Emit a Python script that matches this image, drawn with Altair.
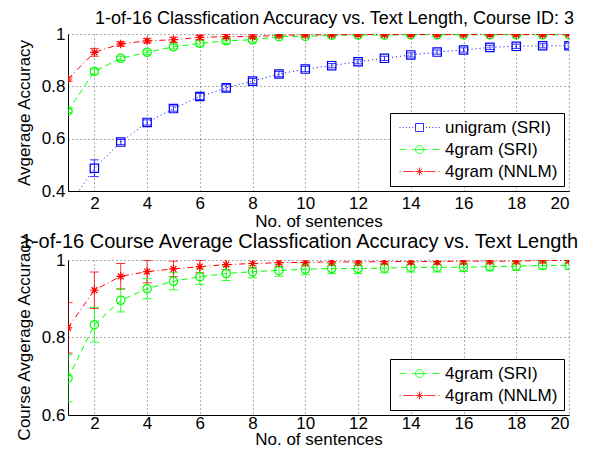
import altair as alt
import pandas as pd

xs = list(range(1, 21))

# Top panel (Course ID: 3)
top_uni = [0.34, 0.487, 0.587, 0.662, 0.715, 0.761, 0.794, 0.82, 0.847, 0.866,
           0.879, 0.894, 0.907, 0.92, 0.931, 0.939, 0.949, 0.953, 0.955, 0.955]
top_uni_err = [0.01, 0.032, 0.01, 0.01, 0.01, 0.012, 0.012, 0.01, 0.01, 0.01,
               0.008, 0.008, 0.008, 0.008, 0.008, 0.008, 0.008, 0.008, 0.008, 0.01]
top_sri = [0.706, 0.857, 0.907, 0.93, 0.951, 0.964, 0.974, 0.978, 0.99, 0.991,
           0.995, 0.996, 0.996, 0.997, 0.997, 0.997, 0.997, 0.997, 0.997, 0.997]
top_sri_err = [0.006, 0.01, 0.008, 0.008, 0.008, 0.01, 0.01, 0.008, 0.006, 0.006,
               0.005, 0.005, 0.005, 0.005, 0.005, 0.005, 0.005, 0.005, 0.005, 0.005]
top_nnlm = [0.828, 0.93, 0.962, 0.974, 0.978, 0.987, 0.99, 0.99, 0.995, 0.997,
            0.997, 0.998, 0.998, 0.998, 0.998, 0.998, 0.998, 0.998, 0.998, 0.998]
top_nnlm_err = [0.008, 0.015, 0.008, 0.008, 0.01, 0.008, 0.008, 0.006, 0.005, 0.005,
                0.004, 0.004, 0.004, 0.004, 0.004, 0.004, 0.004, 0.004, 0.004, 0.004]

# Bottom panel (course average)
bot_sri = [0.695, 0.833, 0.896, 0.926, 0.945, 0.957, 0.965, 0.970, 0.973, 0.976,
           0.978, 0.978, 0.979, 0.981, 0.981, 0.981, 0.983, 0.984, 0.986, 0.986]
bot_sri_err = [0.061, 0.045, 0.03, 0.026, 0.022, 0.02, 0.018, 0.016, 0.015, 0.014,
               0.013, 0.013, 0.012, 0.012, 0.012, 0.011, 0.011, 0.011, 0.01, 0.01]
bot_nnlm = [0.825, 0.922, 0.958, 0.97, 0.977, 0.983, 0.988, 0.991, 0.993, 0.994,
            0.995, 0.995, 0.996, 0.996, 0.996, 0.997, 0.997, 0.997, 0.999, 0.999]
bot_nnlm_err = [0.065, 0.047, 0.033, 0.029, 0.02, 0.016, 0.013, 0.011, 0.01, 0.009,
                0.009, 0.009, 0.008, 0.008, 0.008, 0.008, 0.007, 0.007, 0.007, 0.007]

names = ["unigram (SRI)", "4gram (SRI)", "4gram (NNLM)"]
colors = ["#0000ff", "#00ff00", "#ff0000"]
dashes = [[1, 3], [6, 4], [6, 3, 1, 3]]
star = "M-1,0L1,0M0,-1L0,1M-0.7,-0.7L0.7,0.7M-0.7,0.7L0.7,-0.7"
shapes = ["square", "circle", star]

# legend glyphs: line-style sample with the marker in the middle
square_p = "M-1,-1H1V1H-1Z"
circle_p = "M1,0A1,1 0 1,1 -1,0A1,1 0 1,1 1,0Z"
dotted_p = "".join(f"M{v},0h0.25" for v in [-5, -4.2, -3.4, -2.6, -1.8, 1.6, 2.4, 3.2, 4.0, 4.8])
legend_glyphs = [
    dotted_p + square_p,
    "M-5,0H-3.3M-1.9,0H1.9M3.3,0H5" + circle_p,
    "M-5,0h0.3M-4,0H-1.2M1.2,0H4M4.7,0h0.3" + star,
]

FONT = "Liberation Sans"


def frame(series_list):
    rows = []
    for i, ys, es in series_list:
        for x, y, e in zip(xs, ys, es):
            rows.append({"series": names[i], "col": colors[i], "x": x, "y": y,
                         "lo": y - e, "hi": y + e})
    return pd.DataFrame(rows)


def panel(df, ydom, yticks, title, ytitle, used, height, lpad, tpad):
    dom = [names[i] for i in used]
    col = alt.Scale(domain=dom, range=[colors[i] for i in used])
    shp = alt.Scale(domain=dom, range=[legend_glyphs[i] for i in used])
    xenc = alt.X("x:Q", scale=alt.Scale(domain=[1, 20], nice=False),
                 axis=alt.Axis(values=list(range(2, 21, 2)), title="No. of sentences",
                               labelPadding=lpad, titlePadding=tpad))
    yscale = alt.Scale(domain=ydom, nice=False)
    yenc = alt.Y("y:Q", scale=yscale,
                 axis=alt.Axis(values=yticks, format=".1~f", title=ytitle))
    craw = alt.Color("col:N", scale=None)
    leg = alt.Legend(orient="bottom-right", title=None)
    base = alt.Chart(df)
    layers = []
    for i in used:
        layers.append(
            base.transform_filter(alt.datum.series == names[i])
            .mark_line(clip=True, strokeWidth=1, strokeDash=dashes[i], color=colors[i])
            .encode(x=xenc, y=yenc)
        )
    err = base.mark_rule(clip=True, strokeWidth=1, opacity=0.8).encode(
        x="x:Q", y=alt.Y("lo:Q", scale=yscale), y2="hi:Q", color=craw)
    cap_lo = base.mark_tick(clip=True, orient="horizontal", size=9, thickness=1, opacity=0.8).encode(
        x="x:Q", y=alt.Y("lo:Q", scale=yscale), color=craw)
    cap_hi = base.mark_tick(clip=True, orient="horizontal", size=9, thickness=1, opacity=0.8).encode(
        x="x:Q", y=alt.Y("hi:Q", scale=yscale), color=craw)
    layers += [err, cap_lo, cap_hi]
    for i in used:
        layers.append(
            base.transform_filter(alt.datum.series == names[i])
            .mark_point(clip=True, filled=False, size=70, strokeWidth=1.2,
                        opacity=1, shape=shapes[i], color=colors[i])
            .encode(x="x:Q", y="y:Q")
        )
    # legend-only layer (draws no marks)
    key = base.transform_filter("false").mark_point(filled=False, strokeWidth=1).encode(
        x="x:Q", y="y:Q",
        color=alt.Color("series:N", scale=col, legend=leg),
        shape=alt.Shape("series:N", scale=shp, legend=leg))
    layers.append(key)
    return alt.layer(*layers).properties(width=501, height=height, title=title)


top_df = frame([(0, top_uni, top_uni_err),
                (1, top_sri, top_sri_err),
                (2, top_nnlm, top_nnlm_err)])
bot_df = frame([(1, bot_sri, bot_sri_err),
                (2, bot_nnlm, bot_nnlm_err)])

top = panel(top_df, [0.4, 1.0], [0.4, 0.6, 0.8, 1.0],
            alt.TitleParams("1-of-16 Classfication Accuracy vs. Text Length, Course ID: 3",
                            fontSize=18, dy=4, dx=16),
            "Avgerage Accuracy", [0, 1, 2], 157, 4, 2)
bot = panel(bot_df, [0.6, 1.0], [0.6, 0.7, 0.8, 0.9, 1.0],
            alt.TitleParams("1-of-16 Course Average Classfication Accuracy vs. Text Length",
                            fontSize=20, dy=19, dx=-19),
            "Course Avgerage Accuracy", [1, 2], 155, 0, 0)

chart = alt.vconcat(top, bot, spacing=69, bounds="flush").resolve_scale(
    color="independent", shape="independent"
).properties(
    padding={"left": 7, "top": 2, "right": 0, "bottom": 0}
).configure_view(stroke=None).configure_axis(
    labelFont=FONT, titleFont=FONT, labelFontSize=17, titleFontSize=17,
    labelColor="black", titleColor="black", titleFontWeight="normal",
    domainColor="black", domainWidth=1, ticks=False, labelPadding=3,
    titlePadding=8,
    gridColor="#333333", gridDash=[1, 3], gridOpacity=0.8, gridWidth=1
).configure_title(
    font=FONT, fontWeight="normal", color="black", offset=1
).configure_legend(
    offset=5, strokeColor="black", strokeWidth=1,
    fillColor="white", padding=6, labelFont=FONT, labelFontSize=17,
    labelColor="black", symbolSize=64, symbolStrokeWidth=1, rowPadding=4,
    symbolOffset=15, labelOffset=17, cornerRadius=0
)

chart.save("out.html", embed_options={"renderer": "svg", "actions": False})
